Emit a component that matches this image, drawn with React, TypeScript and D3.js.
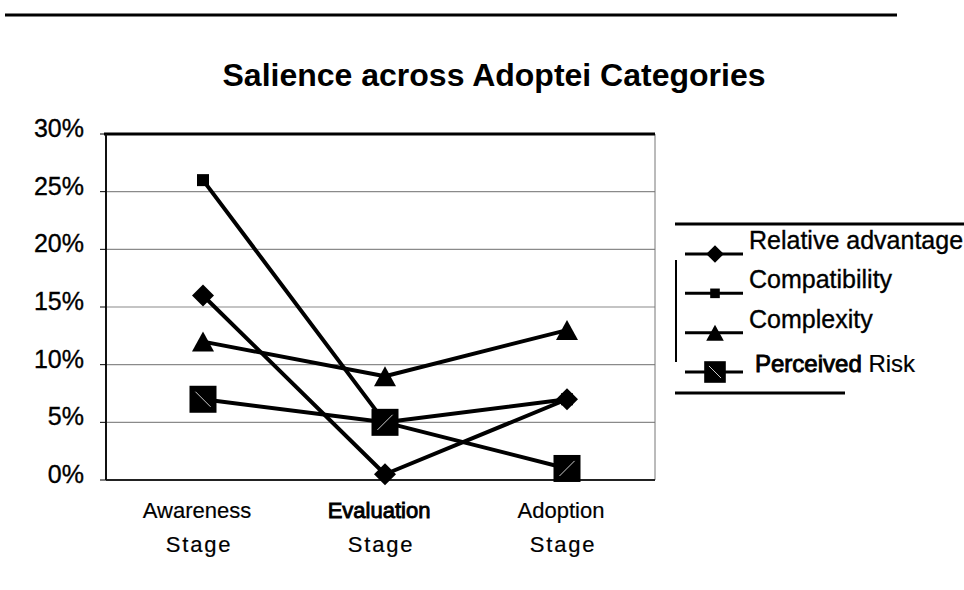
import React from 'react';
import * as d3 from 'd3';

// chart data
const categories = ['Awareness', 'Evaluation', 'Adoption'];
const categorySuffix = 'Stage';
const seriesNames = ['Relative advantage', 'Compatibility', 'Complexity', 'Perceived Risk'];
const relativeAdvantage = [16, 0.5, 7];
const compatibility = [26, 5, 7];
const complexity = [12, 9, 13];
const perceivedRisk = [7, 5, 1];
const yTicks = [0, 5, 10, 15, 20, 25, 30];

const seriesValues = [relativeAdvantage, compatibility, complexity, perceivedRisk];
const seriesShapes = ['diamond', 'smallSquare', 'triangle', 'bigSquare'];

const W = 964;
const H = 590;
const FONT = '"Liberation Sans", Arial, sans-serif';

const plot = { left: 106, right: 655, top: 134, bottom: 480 };

const Marker: React.FC<{ shape: string; x: number; y: number; scale?: number; slash?: 1 | -1 }> = ({
  shape,
  x,
  y,
  scale = 1,
  slash = 1
}) => {
  if (shape === 'diamond') {
    const r = 11 * scale;
    return <path d={`M${x},${y - r}L${x + r},${y}L${x},${y + r}L${x - r},${y}Z`} fill="#000" />;
  }
  if (shape === 'smallSquare') {
    const s = 12 * scale;
    return <rect x={x - s / 2} y={y - s / 2} width={s} height={s} fill="#000" />;
  }
  if (shape === 'triangle') {
    const w = 22 * scale;
    const h = 20 * scale;
    return (
      <path d={`M${x},${y - h / 2}L${x + w / 2},${y + h / 2}L${x - w / 2},${y + h / 2}Z`} fill="#000" />
    );
  }
  const s = 27 * scale;
  const d = s * 0.28;
  return (
    <g>
      <rect x={x - s / 2} y={y - s / 2} width={s} height={s} fill="#000" />
      <line
        x1={x - d}
        y1={y - d * slash}
        x2={x + d}
        y2={y + d * slash}
        stroke="#fff"
        strokeWidth={0.8}
      />
    </g>
  );
};

const App: React.FC = () => {
  const x = d3.scaleBand<string>().domain(categories).range([112, 658]);
  const y = d3.scaleLinear().domain([0, 30]).range([plot.bottom, plot.top]);
  const cx = (c: string) => (x(c) ?? 0) + x.bandwidth() / 2;

  const line = d3
    .line<number>()
    .x((_, i) => cx(categories[i]))
    .y(d => y(d));

  const legendX = 685;
  const legendLineEnd = 743;
  const legendY = d3.scaleLinear().domain([0, 3]).range([254, 372]);

  // scanned text looks a little heavier than the plain font
  const ink = { fill: '#000', stroke: '#000', strokeWidth: 0.35 };

  return (
    <svg
      width={W}
      height={H}
      style={{ position: 'absolute', left: 0, top: 0, background: '#fff' }}
      fontFamily={FONT}
    >
      <rect width={W} height={H} fill="#fff" />

      {/* top rule */}
      <line x1={5} x2={897} y1={15} y2={15} stroke="#000" strokeWidth={3} />

      <text x={494} y={86} textAnchor="middle" fontSize={32} fontWeight="bold" fill="#000">
        Salience across Adoptei Categories
      </text>

      {/* gridlines */}
      {yTicks.slice(1, -1).map(t => (
        <line key={t} x1={plot.left} x2={plot.right} y1={y(t)} y2={y(t)} stroke="#8a8a8a" strokeWidth={1.2} />
      ))}

      {/* frame */}
      <line x1={plot.right} x2={plot.right} y1={plot.top} y2={plot.bottom} stroke="#777" strokeWidth={1} />
      <line x1={plot.left - 2} x2={plot.right} y1={plot.top} y2={plot.top} stroke="#000" strokeWidth={3} />
      <line x1={plot.left} x2={plot.right} y1={plot.bottom} y2={plot.bottom} stroke="#222" strokeWidth={2} />
      <line x1={plot.left} x2={plot.left} y1={plot.top} y2={plot.bottom} stroke="#111" strokeWidth={2} />

      {/* y ticks */}
      {yTicks.map(t => (
        <g key={t}>
          <line x1={plot.left - 6} x2={plot.left} y1={y(t)} y2={y(t)} stroke="#000" strokeWidth={1} />
          <text x={84} y={y(t) + 3} textAnchor="end" fontSize={25} {...ink}>
            {`${t}%`}
          </text>
        </g>
      ))}

      {/* x labels */}
      {categories.map(c => (
        <g key={c}>
          <text
            x={cx(c) - 6}
            y={518}
            textAnchor="middle"
            fontSize={22}
            {...ink}
            strokeWidth={c === 'Evaluation' ? 0.9 : 0.2}
          >
            {c}
          </text>
          <text x={cx(c) - 4} y={552} textAnchor="middle" fontSize={22} letterSpacing={1.8} {...ink} strokeWidth={0.2}>
            {categorySuffix}
          </text>
        </g>
      ))}

      {/* series lines */}
      {seriesValues.map((vals, si) => (
        <path key={si} d={line(vals) ?? ''} fill="none" stroke="#000" strokeWidth={4} strokeLinejoin="round" />
      ))}

      {/* series markers */}
      {seriesValues.map((vals, si) =>
        vals.map((v, i) => (
          <Marker
            key={`${si}-${i}`}
            shape={seriesShapes[si]}
            x={cx(categories[i])}
            y={y(v)}
            slash={i === 0 ? 1 : -1}
          />
        ))
      )}

      {/* legend */}
      <line x1={675} x2={964} y1={224} y2={224} stroke="#000" strokeWidth={3} />
      <line x1={675} x2={845} y1={393} y2={393} stroke="#000" strokeWidth={3} />
      <line x1={676} x2={676} y1={260} y2={362} stroke="#000" strokeWidth={2} />
      {seriesNames.map((name, i) => {
        const ly = legendY(i);
        const mx = 715;
        return (
          <g key={name}>
            <line x1={legendX} x2={legendLineEnd} y1={ly} y2={ly} stroke="#000" strokeWidth={3} />
            <Marker shape={seriesShapes[i]} x={mx} y={ly} scale={0.8} slash={1} />
            {i === 3 ? (
              <text x={755} y={ly} fontSize={24} {...ink} strokeWidth={0.2}>
                <tspan strokeWidth={0.9}>{name.split(' ')[0]}</tspan>
                <tspan>{` ${name.split(' ')[1]}`}</tspan>
              </text>
            ) : (
              <text x={749} y={ly - 5} fontSize={25} {...ink}>
                {name}
              </text>
            )}
          </g>
        );
      })}
    </svg>
  );
};

export default App;
